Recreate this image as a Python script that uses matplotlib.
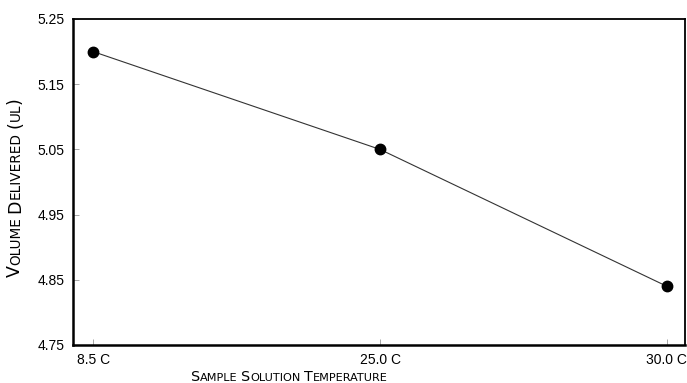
import matplotlib
matplotlib.use("Agg")
import matplotlib.pyplot as plt
from matplotlib.transforms import offset_copy

plt.rcParams['font.family'] = ['Liberation Sans', 'DejaVu Sans']

temperatury = ["8.5 C", "25.0 C", "30.0 C"]
objetosc = [5.20, 5.05, 4.84]
y_ticki = [4.75, 4.85, 4.95, 5.05, 5.15, 5.25]

fig = plt.figure(figsize=(6.87, 3.83), dpi=100)
ax = fig.add_axes([73/687, 38/383, 612/687, 326/383])

x = list(range(len(temperatury)))
ax.plot(x, objetosc, color='#333333', lw=0.8, marker='o', ms=7.5,
        mfc='black', mec='black')

ax.set_xlim(-0.07, 2.063)
ax.set_ylim(4.75, 5.25)
ax.set_xticks(x)
ax.set_xticklabels(temperatury)
ax.set_yticks(y_ticki)
ax.set_yticklabels(["%.2f" % v for v in y_ticki])
ax.tick_params(direction='in', length=4, width=0.6, color='#999999',
               labelsize=10, pad=6)
for s in ['left', 'bottom']:
    ax.spines[s].set_linewidth(1.8)
for s in ['top', 'right']:
    ax.spines[s].set_linewidth(1.3)


def male_kapitaliki(tekst, x0, y0, kat, duze=9.5, male=7.3):
    # rysuje tekst "small caps" kawalek po kawalku
    renderer = fig.canvas.get_renderer()
    kawalki = []
    for slowo_i, slowo in enumerate(tekst.split(" ")):
        if slowo_i > 0:
            kawalki.append((" ", male))
        i = 0
        while i < len(slowo):
            c = slowo[i]
            if c.isupper() or not c.isalpha():
                kawalki.append((c, duze))
                i += 1
            else:
                j = i
                while j < len(slowo) and slowo[j].isalpha() and slowo[j].islower():
                    j += 1
                kawalki.append((slowo[i:j].upper(), male))
                i = j
    # zmierz szerokosci
    szer = []
    for t, fs in kawalki:
        tt = fig.text(0, 0, t.replace(" ", "\u00a0"), fontsize=fs,
                      family='DejaVu Sans')
        bb = tt.get_window_extent(renderer)
        szer.append(bb.width)
        tt.remove()
    calosc = sum(szer)
    pos = -calosc / 2
    for (t, fs), w in zip(kawalki, szer):
        if kat == 0:
            dx, dy = pos, 0
        else:
            dx, dy = 0, pos
        tr = offset_copy(fig.transFigure, fig=fig, x=dx * 72 / fig.dpi,
                         y=dy * 72 / fig.dpi, units='points')
        fig.text(x0, y0, t, fontsize=fs, rotation=kat, transform=tr,
                 family='DejaVu Sans', rotation_mode='anchor',
                 ha='left', va='baseline')
        pos += w


fig.canvas.draw()
male_kapitaliki("Sample Solution Temperature", 289/687, 1 - 381/383, 0,
                duze=10.3, male=8.1)
male_kapitaliki("Volume Delivered (ul)", 20/687, 1 - 187/383, 90,
                duze=12.5, male=9.8)

fig.savefig("out.png", dpi=100)
